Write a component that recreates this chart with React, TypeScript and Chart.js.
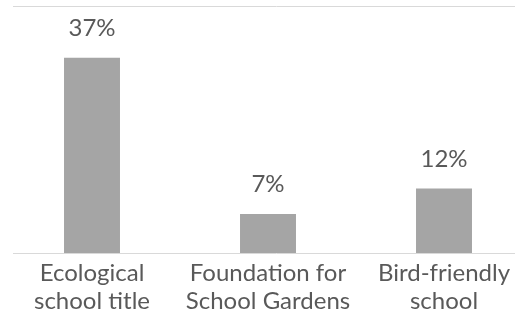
import React, { useEffect, useRef } from "react";
import { Chart, registerables } from "chart.js";

Chart.register(...registerables);

const categories: string[][] = [
  ["Ecological", "school title"],
  ["Foundation for", "School Gardens"],
  ["Bird-friendly", "school"],
];
const values: number[] = [37, 7.4, 12.2];
const yMax = 46.8;

const FONT = "Lato, 'Open Sans', 'DejaVu Sans', sans-serif";
const TEXT = "#595959";

const linesPlugin = {
  id: "hlines",
  beforeDatasetsDraw(chart: any) {
    const { ctx } = chart;
    const y = chart.scales.y;
    ctx.save();
    ctx.strokeStyle = "#D9D9D9";
    ctx.lineWidth = 1;
    [0, yMax].forEach((v) => {
      const py = Math.round(y.getPixelForValue(v)) + 0.5;
      ctx.beginPath();
      ctx.moveTo(13, py);
      ctx.lineTo(chart.width, py);
      ctx.stroke();
    });
    ctx.restore();
  },
};

const labelPlugin = {
  id: "vlabels",
  afterDatasetsDraw(chart: any) {
    const { ctx } = chart;
    const meta = chart.getDatasetMeta(0);
    ctx.save();
    ctx.fillStyle = TEXT;
    ctx.font = `24px ${FONT}`;
    ctx.textAlign = "center";
    ctx.textBaseline = "alphabetic";
    meta.data.forEach((bar: any, i: number) => {
      ctx.fillText(`${Math.round(values[i])}%`, bar.x, bar.y - 22);
    });
    ctx.restore();
  },
};

export default function App() {
  const ref = useRef<HTMLCanvasElement>(null);
  useEffect(() => {
    if (!ref.current) return;
    const chart = new Chart(ref.current, {
      type: "bar",
      data: {
        labels: categories,
        datasets: [
          {
            data: values,
            backgroundColor: "#A5A5A5",
            categoryPercentage: 1,
            barPercentage: 0.318,
          },
        ],
      },
      options: {
        responsive: false,
        animation: false,
        layout: { padding: { left: 4, right: 8, top: 6, bottom: 0 } },
        plugins: { legend: { display: false }, tooltip: { enabled: false } },
        scales: {
          x: {
            grid: { display: false, drawTicks: false },
            border: { display: false },
            ticks: {
              color: TEXT,
              font: { family: FONT, size: 24, lineHeight: 1.17 },
              autoSkip: false,
              maxRotation: 0,
              padding: 6,
            },
            afterFit(scale: any) {
              scale.height = 82;
            },
          },
          y: {
            display: false,
            min: 0,
            max: yMax,
          },
        },
      },
      plugins: [linesPlugin, labelPlugin],
    });
    return () => chart.destroy();
  }, []);
  return (
    <div style={{ position: "fixed", left: 0, top: 0, width: 515, height: 335, overflow: "hidden", background: "#fff" }}>
      <canvas ref={ref} width={540} height={335} style={{ display: "block" }} />
    </div>
  );
}
